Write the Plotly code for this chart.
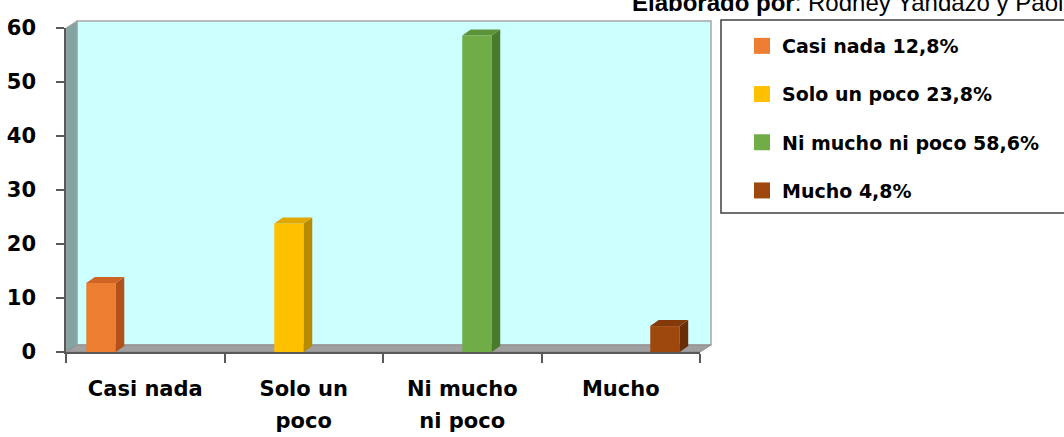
import plotly.graph_objects as go

# ---- data -------------------------------------------------------------
categories = ["Casi nada", "Solo un poco", "Ni mucho ni poco", "Mucho"]
values = [12.8, 23.8, 58.6, 4.8]
legend_labels = ["Casi nada 12,8%", "Solo un poco 23,8%",
                 "Ni mucho ni poco 58,6%", "Mucho 4,8%"]
tick_line1 = ["Casi nada", "Solo un", "Ni mucho", "Mucho"]
tick_line2 = ["", "poco", "ni poco", ""]
y_ticks = [0, 10, 20, 30, 40, 50, 60]

# ---- style ------------------------------------------------------------
front_colors = ["#ED7D31", "#FFC000", "#70AD47", "#9E480E"]
top_colors = ["#CF6424", "#E0A800", "#5C9238", "#83390A"]
side_colors = ["#B0521A", "#B88A00", "#4A7A2C", "#6A2E06"]

W, H = 1064, 437
M_L, M_R, M_T, M_B = 66, 364, 28, 85
PW = W - M_L - M_R
PH = H - M_T - M_B
Y_MAX = y_ticks[-1]
n = len(categories)

BAR_W = 0.186                      # bar width in category units
BAR_DX = 8.5 / (PW / n)            # 3-D depth of bars, category units
BAR_DY = 6.0 / (PH / Y_MAX)        # 3-D depth of bars, value units
WALL_DX = 11 / PW                  # wall depth, paper units
WALL_DY = 7 / PH

AXIS_COL = "#595959"
FONT = "DejaVu Sans"

fig = go.Figure()

shapes = []
# back wall
shapes.append(dict(type="rect", xref="paper", yref="paper",
                   x0=WALL_DX, x1=1 + WALL_DX, y0=WALL_DY, y1=1 + WALL_DY,
                   fillcolor="#CCFFFF", line=dict(color="#A6A6A6", width=1.5),
                   layer="below"))
# left side wall
shapes.append(dict(type="path", xref="paper", yref="paper",
                   path=f"M0,0 L0,1 L{WALL_DX},{1 + WALL_DY} L{WALL_DX},{WALL_DY} Z",
                   fillcolor="#84A4A4", line=dict(color="#A6A6A6", width=1),
                   layer="below"))
# floor
shapes.append(dict(type="path", xref="paper", yref="paper",
                   path=f"M0,0 L{WALL_DX},{WALL_DY} L{1 + WALL_DX},{WALL_DY} L1,0 Z",
                   fillcolor="#A0A0A0", line=dict(color="#8C8C8C", width=1),
                   layer="below"))

for k, (cat, val) in enumerate(zip(categories, values)):
    offset = -2 * BAR_W + k * BAR_W
    fig.add_trace(go.Bar(
        x=[cat], y=[val], width=BAR_W, offset=offset,
        marker=dict(color=front_colors[k], line=dict(width=0)),
        showlegend=False, hoverinfo="x+y",
    ))
    left = k + offset
    right = left + BAR_W
    # right side face
    shapes.append(dict(type="path", xref="x", yref="y",
                       path=(f"M{right},0 L{right + BAR_DX},{BAR_DY} "
                             f"L{right + BAR_DX},{val + BAR_DY} L{right},{val} Z"),
                       fillcolor=side_colors[k], line=dict(width=0), layer="above"))
    # top face
    shapes.append(dict(type="path", xref="x", yref="y",
                       path=(f"M{left},{val} L{left + BAR_DX},{val + BAR_DY} "
                             f"L{right + BAR_DX},{val + BAR_DY} L{right},{val} Z"),
                       fillcolor=top_colors[k], line=dict(width=0), layer="above"))
    # legend entry
    fig.add_trace(go.Scatter(
        x=[None], y=[None], mode="markers", xaxis="x2",
        name=legend_labels[k], legendgroup=f"g{k}",
        marker=dict(symbol="square", size=16, color=front_colors[k]),
    ))

# legend frame
LEG_X0, LEG_X1, LEG_Y0, LEG_Y1 = 721, 1080, 20, 213
shapes.append(dict(type="rect", xref="paper", yref="paper",
                   x0=(LEG_X0 - M_L) / PW, x1=(LEG_X1 - M_L) / PW,
                   y0=(M_T + PH - LEG_Y1) / PH, y1=(M_T + PH - LEG_Y0) / PH,
                   fillcolor="white", line=dict(color="#404040", width=1.5),
                   layer="below"))

tick_font = dict(family=FONT, size=21, weight="bold", color="#000000")

fig.update_layout(
    width=W, height=H,
    margin=dict(l=M_L, r=M_R, t=M_T, b=M_B, pad=0, autoexpand=False),
    paper_bgcolor="white", plot_bgcolor="rgba(0,0,0,0)",
    barmode="overlay",
    shapes=shapes,
    font=dict(family=FONT, color="#000000"),
    xaxis=dict(
        type="category", categoryorder="array", categoryarray=categories,
        range=[-0.5, n - 0.5], automargin=False,
        tickmode="array", tickvals=categories, ticktext=tick_line1,
        tickson="boundaries", ticks="outside", ticklen=9, tickwidth=1.5,
        tickcolor=AXIS_COL, showline=True, linecolor=AXIS_COL, linewidth=1.5,
        showgrid=False, zeroline=False, ticklabelstandoff=17,
        tickfont=tick_font, fixedrange=True,
    ),
    xaxis2=dict(
        overlaying="x", anchor="y", side="bottom", range=[-0.5, n - 0.5],
        automargin=False,
        tickmode="array", tickvals=list(range(n)), ticktext=tick_line2,
        ticks="", showline=False, showgrid=False, zeroline=False,
        ticklabelstandoff=54,
        tickfont=tick_font, fixedrange=True,
    ),
    yaxis=dict(
        range=[0, Y_MAX], tickmode="array", tickvals=y_ticks, automargin=False,
        ticks="outside", ticklen=8, tickwidth=1.5, tickcolor=AXIS_COL,
        showline=True, linecolor=AXIS_COL, linewidth=1.5,
        showgrid=False, zeroline=False, ticklabelstandoff=16,
        tickfont=tick_font, fixedrange=True,
    ),
    legend=dict(
        x=(742 - M_L) / PW, y=(M_T + PH - 27) / PH, xanchor="left", yanchor="top",
        bgcolor="rgba(0,0,0,0)", borderwidth=0, tracegroupgap=20.5,
        font=dict(family=FONT, size=19, weight="bold", color="#000000"),
    ),
    annotations=[dict(
        text="<b>Elaborado por</b>: Rodney Yandazo y Paola",
        xref="paper", yref="paper", x=(630 - M_L) / PW, y=(M_T + PH - 18) / PH,
        xanchor="left", yanchor="bottom", showarrow=False,
        font=dict(family="Liberation Sans", size=24, color="#000000"),
    )],
)

fig.write_html("out.html")
